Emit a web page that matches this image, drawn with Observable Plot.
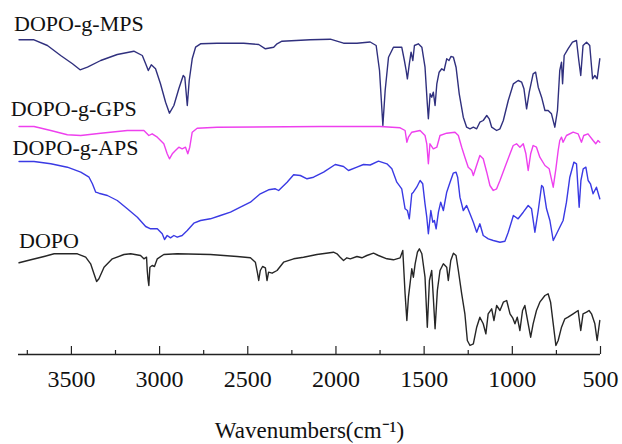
<!DOCTYPE html>
<html>
<head>
<meta charset="utf-8">
<script src="https://cdn.jsdelivr.net/npm/d3@7"></script>
<script src="https://cdn.jsdelivr.net/npm/@observablehq/plot@0.6"></script>
<style>
  html, body { margin: 0; padding: 0; background: #fff; }
  #chart svg { display: block; }
  #chart svg text { font-family: 'Liberation Serif', 'Times New Roman', serif !important; }
</style>
</head>
<body>
<div id="chart"></div>
<script>
// Wavenumber (cm^-1), offset transmittance (arbitrary units)
const mps = [
  [3797,314.7],[3712,314.7],[3636,309],[3561,299],[3494,290.7],[3451,284.7],[3409,287.3],[3334,294],
  [3240,300],[3146,303.3],[3098,299],[3079,290.7],[3064,284],[3047,289.7],[3023,285.7],[2995,270.7],
  [2966,252.3],[2944,241.3],[2919,249],[2891,265.7],[2866,279],[2857,277.3],[2843,249],[2832,274],
  [2815,295.7],[2796,307.3],[2768,310.7],[2674,311.3],[2523,311.3],[2438,310],[2400,305.7],[2353,307.3],
  [2334,310.7],[2306,313.3],[2146,314.7],[2032,315.3],[1957,311.3],[1881,311.3],[1806,312.5],[1772,309],
  [1753,284],[1734,229],[1721,264],[1702,297.3],[1674,307.3],[1627,307.3],[1612,294],[1602,284],
  [1595,275.7],[1584,290.7],[1574,302.3],[1564,294],[1555,309],[1533,310.7],[1513,307.3],[1495,287.3],
  [1482,250.7],[1476,235.7],[1466,260.7],[1457,257.3],[1448,262.3],[1438,249],[1428,270.7],[1415,282.3],
  [1400,285.7],[1387,284],[1372,295.7],[1359,294],[1348,298],[1334,297.3],[1319,287.3],[1301,260.7],
  [1278,237.3],[1259,227.3],[1240,225.7],[1221,227.3],[1202,225.7],[1184,232.3],[1165,234],[1145,239],
  [1131,235.7],[1117,227.3],[1089,224],[1070,225.7],[1051,234],[1023,254],[994,270.7],[967,274],
  [947,272.3],[934,265.7],[919,245.7],[904,262.3],[882,280.7],[868,282.3],[853,267.3],[834,257.3],
  [815,244],[797,244],[778,240.7],[759,227.3],[744,244],[731,284],[721,292.3],[715,270.7],
  [706,299],[684,305.7],[659,312.3],[636,314],[623,294],[612,279],[599,309],[579,312.3],
  [561,309],[545,275.7],[532,279],[519,275.7],[504,295.7]
];
const gps = [
  [3797,228],[3712,228],[3617,224],[3523,219.7],[3447,219],[3334,221.3],[3183,224],[3089,224],
  [3061,219],[3042,220.7],[3013,217.3],[2976,210.7],[2957,200.7],[2944,195.7],[2928,200.7],[2910,204],
  [2891,207.3],[2872,205.7],[2853,207.3],[2840,200.7],[2829,207.3],[2815,222.3],[2787,226.3],[2674,227.3],
  [2089,228],[1750,228],[1636,226.7],[1608,224],[1598,212.3],[1589,217.3],[1570,222.3],[1523,224],
  [1495,219],[1485,210.7],[1476,190.7],[1467,210.7],[1448,205.7],[1428,207.3],[1410,219],[1372,221.3],
  [1325,222.3],[1306,219],[1287,207.3],[1269,197.3],[1250,187.3],[1230,184],[1221,179],[1206,187.3],
  [1184,199],[1165,195.7],[1145,182.3],[1127,169],[1108,164],[1089,165.7],[1070,174],[1042,187.3],
  [1013,200.7],[995,209],[976,210.7],[957,207.3],[938,210.7],[923,200.7],[910,184],[896,200.7],
  [882,209],[863,207.3],[844,197.3],[815,189],[791,185.7],[768,167.3],[753,185.7],[740,204],
  [731,214],[721,217.3],[712,212.3],[693,219],[655,222.3],[627,220.7],[608,212.3],[595,219],
  [571,220.7],[542,214],[527,210.7],[514,214],[504,212.3]
];
const aps = [
  [3797,193],[3712,193],[3617,190.7],[3523,187.3],[3447,182.3],[3400,177.3],[3381,170.7],[3362,162.3],
  [3344,161.3],[3296,159],[3240,154],[3183,145.7],[3126,137.3],[3079,128],[3051,125.7],[3013,125.7],
  [2985,120.7],[2972,115],[2957,119],[2938,116.7],[2919,119],[2900,117.3],[2872,119],[2843,124],
  [2806,131.3],[2768,134],[2712,135.7],[2655,139],[2598,142.3],[2542,147.3],[2485,152.3],[2429,160.7],
  [2382,164.7],[2344,165.7],[2325,164],[2277,172.3],[2240,179.7],[2202,179],[2164,175.7],[2127,177.3],
  [2070,182.3],[2004,190],[1957,188],[1929,184],[1881,187.3],[1844,190],[1806,189.5],[1759,193.3],
  [1711,190.7],[1683,185.7],[1655,172.3],[1627,165.7],[1608,145.7],[1595,144],[1584,135.7],[1570,160.7],
  [1561,162.3],[1542,167.3],[1523,174],[1508,170.7],[1495,150.7],[1485,137.3],[1476,120.7],[1462,144],
  [1451,132.3],[1442,134],[1432,125.7],[1419,142.3],[1406,152.3],[1391,144],[1372,162.3],[1353,172.3],
  [1335,181.3],[1319,182.3],[1310,177.3],[1297,157.3],[1278,144],[1259,149],[1240,140.7],[1221,132.3],
  [1202,122.3],[1184,130.7],[1165,119],[1136,115.7],[1108,114],[1070,112.3],[1042,113.3],[1023,122.3],
  [994,139],[967,135.7],[938,142.3],[910,149],[891,145.7],[872,122.3],[853,144],[834,169],
  [825,167.3],[806,145.7],[787,134],[768,114],[749,120.7],[731,127.3],[712,134],[693,152.3],
  [674,177.3],[651,192.3],[636,190.7],[621,147.3],[611,174],[598,185.7],[583,187.3],[570,174],
  [557,170.7],[542,160.7],[523,167.3],[504,155.7]
];
const dopo = [
  [3797,91.7],[3730,94.7],[3655,98],[3598,100.7],[3466,100.7],[3419,97.3],[3391,90.7],[3372,80.7],
  [3357,73],[3344,75.7],[3315,87.3],[3268,95.7],[3202,100],[3164,100.7],[3108,99],[3089,95.7],
  [3074,97.3],[3070,84],[3066,75.7],[3061,69],[3055,87.3],[3042,89],[3029,88],[3013,95.7],
  [2976,100],[2900,100.7],[2712,100],[2560,98],[2485,96.7],[2457,92.3],[2444,80.7],[2438,74],
  [2429,84],[2416,88],[2400,86.7],[2391,74],[2382,82.3],[2362,81.3],[2334,84],[2297,92.3],
  [2240,95.7],[2184,97.3],[2108,100],[2014,102.3],[1994,100.7],[1976,97.3],[1957,94],[1938,96.7],
  [1919,95.7],[1881,98],[1853,96.7],[1825,99],[1787,101.3],[1759,99],[1711,95.7],[1674,94.7],
  [1636,96.7],[1621,104],[1614,80.7],[1608,60.7],[1598,34],[1589,57.3],[1580,70.7],[1570,85.7],
  [1561,77.3],[1551,90.7],[1538,102.3],[1527,105.7],[1513,100.7],[1495,77.3],[1482,27.3],[1470,74],
  [1457,84],[1448,57.3],[1438,25.7],[1425,64],[1410,84],[1391,90.7],[1372,87.3],[1363,74],
  [1349,94],[1334,101.3],[1319,99],[1306,84],[1287,60.7],[1269,40.7],[1255,14],[1240,9],
  [1221,10.7],[1202,27.3],[1184,37.3],[1165,30.7],[1150,20.7],[1137,40.7],[1117,45.7],[1104,34],
  [1089,49],[1070,44],[1051,52.3],[1032,54],[1013,40.7],[998,36.7],[985,30.7],[972,37.3],
  [957,24],[942,44],[929,49],[910,30.7],[896,17.3],[882,30.7],[863,44],[844,52.3],
  [815,59],[797,60.7],[783,52.3],[768,30.7],[753,9],[740,14],[721,27.3],[702,35.7],
  [684,37.3],[655,40.7],[627,44],[612,24],[599,40.7],[579,42.3],[565,44],[551,40.7],
  [532,30.7],[519,14],[504,34]
];

const seriesNames = ["DOPO-g-MPS", "DOPO-g-GPS", "DOPO-g-APS", "DOPO"];
const seriesColors = ["#30307e", "#ee40ee", "#3a3ae4", "#262626"];
const seriesData = [mps, gps, aps, dopo];
// label anchor: [wavenumber, value] of the text baseline start
const labelPos = [[3825, 323.5], [3844, 238.5], [3834, 199.5], [3797, 107]];

const majorTicks = [3500, 3000, 2500, 2000, 1500, 1000, 500];
const minorTicks = [3750, 3250, 2750, 2250, 1750, 1250, 750];
const xLabel = "Wavenumbers(cm\u207B\u00B9)";

const rows = [];
seriesData.forEach((arr, i) => arr.forEach(([w, t]) => rows.push({series: seriesNames[i], w, t})));
const labels = seriesNames.map((name, i) => ({name, w: labelPos[i][0], t: labelPos[i][1]}));

const serif = "'Liberation Serif', 'Times New Roman', serif";

const chart = Plot.plot({
  width: 622,
  height: 444,
  marginLeft: 18,
  marginRight: 22,
  marginTop: 0,
  marginBottom: 90,
  style: {fontFamily: serif, background: "#fff", overflow: "visible"},
  x: {domain: [3800, 500], axis: null},
  y: {domain: [0, 354], axis: null},
  color: {domain: seriesNames, range: seriesColors},
  marks: [
    Plot.ruleY([0], {stroke: "#222", strokeWidth: 1.3}),
    Plot.ruleX(majorTicks, {x: d => d, y1: 0, y2: 8, stroke: "#222", strokeWidth: 1.2}),
    Plot.ruleX(minorTicks, {x: d => d, y1: 0, y2: 4, stroke: "#222", strokeWidth: 1.2}),
    Plot.axisX(majorTicks, {
      tickSize: 0, tickPadding: 15, fontSize: 24, tickFormat: d => String(d),
      fill: "#111", label: null
    }),
    Plot.text([xLabel], {
      frameAnchor: "bottom", dy: 76, text: d => d, fontSize: 23, fill: "#111",
      lineAnchor: "middle"
    }),
    Plot.line(rows, {x: "w", y: "t", z: "series", stroke: "series", strokeWidth: 1.4, curve: "linear"}),
    Plot.text(labels, {
      x: "w", y: "t", text: "name", textAnchor: "start", lineAnchor: "bottom",
      fontSize: 22, fill: "#111"
    })
  ]
});
document.getElementById("chart").appendChild(chart);
</script>
</body>
</html>
